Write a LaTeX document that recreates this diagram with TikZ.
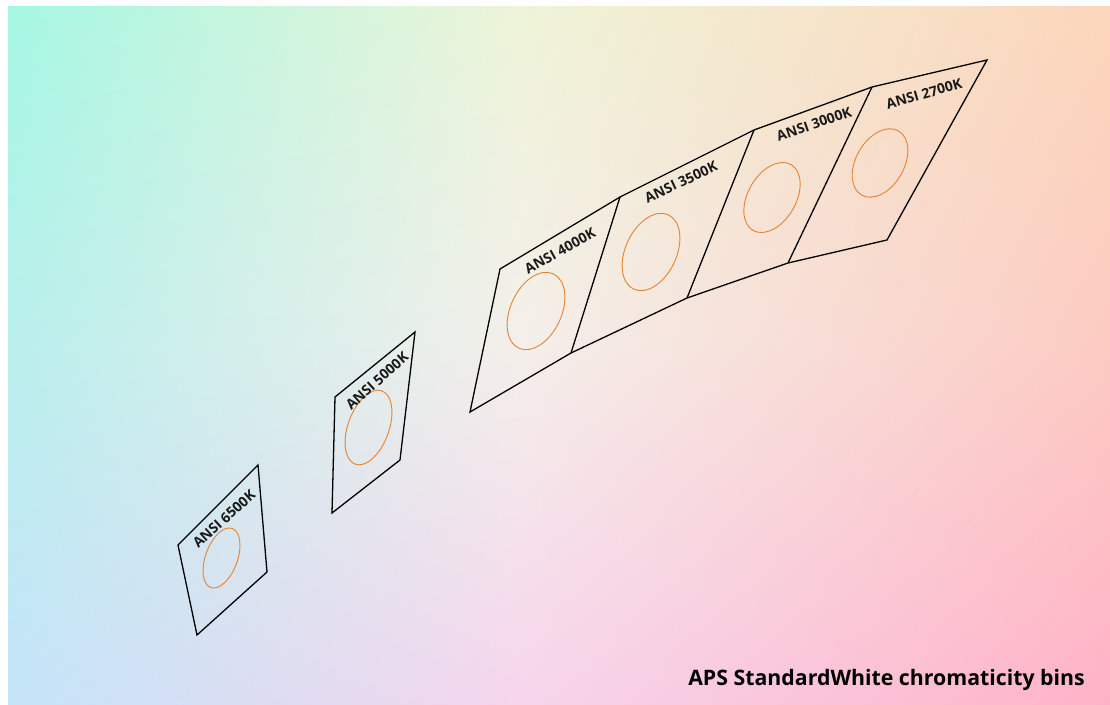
\documentclass[tikz,border=0pt]{standalone}
\usepackage{fontspec}
\setmainfont{Open Sans}
\usetikzlibrary{shadings}
\definecolor{gA}{HTML}{A5F7E3}
\definecolor{gB}{HTML}{EEF4D8}
\definecolor{gC}{HTML}{FCD6BB}
\definecolor{gD}{HTML}{B9EFEC}
\definecolor{gE}{HTML}{F4EFEA}
\definecolor{gF}{HTML}{FCCBC2}
\definecolor{gG}{HTML}{C4E4F9}
\definecolor{gH}{HTML}{F6D5EC}
\definecolor{gI}{HTML}{FFB2C7}
\definecolor{binorange}{HTML}{E8822E}
\begin{document}
\begin{tikzpicture}[x=1pt,y=-1pt,
  panel/.style={draw=black, line width=1.3pt, line join=miter},
  bin/.style={draw=binorange, line width=0.9pt},
  lab/.style={font=\fontsize{14}{16}\selectfont\bfseries, inner sep=0pt, text=black!90},
  ttl/.style={font=\fontsize{21.3}{24}\selectfont\bfseries, inner sep=0pt, text=black}]
\useasboundingbox (0,0) rectangle (1110,704);
\fill[white] (0,0) rectangle (1110,704);
% background: four bilinear patches
\shade[upper left=gA, upper right=gB, lower left=gD, lower right=gE] (8,6) rectangle (520.5,340.5);
\shade[upper left=gB, upper right=gC, lower left=gE, lower right=gF] (520,6) rectangle (1110,340.5);
\shade[upper left=gD, upper right=gE, lower left=gG, lower right=gH] (8,340) rectangle (520.5,704);
\shade[upper left=gE, upper right=gF, lower left=gH, lower right=gI] (520,340) rectangle (1110,704);

% single panels
\coordinate (a1) at (178,545); \coordinate (a2) at (258,465);
\coordinate (a3) at (267,572); \coordinate (a4) at (197,635);
\draw[panel] (a1) -- (a2) -- (a3) -- (a4) -- cycle;

\coordinate (b1) at (335,397); \coordinate (b2) at (415,332);
\coordinate (b3) at (400,460); \coordinate (b4) at (332,513);
\draw[panel] (b1) -- (b2) -- (b3) -- (b4) -- cycle;

% strip of four panels
\coordinate (t0) at (500,269); \coordinate (t1) at (620,197);
\coordinate (t2) at (754,130); \coordinate (t3) at (872,87);
\coordinate (t4) at (987,60);
\coordinate (u0) at (470,412); \coordinate (u1) at (571,353);
\coordinate (u2) at (687,298); \coordinate (u3) at (788,263);
\coordinate (u4) at (887,240);
\draw[panel] (t0) -- (t1) -- (t2) -- (t3) -- (t4) -- (u4) -- (u3) -- (u2) -- (u1) -- (u0) -- cycle;
\draw[panel] (t1) -- (u1);
\draw[panel] (t2) -- (u2);
\draw[panel] (t3) -- (u3);

% ellipses
\coordinate (e1) at (221.5,558);
\coordinate (e2) at (368.5,427.5);
\coordinate (e3) at (536,311);
\coordinate (e4) at (651,252);
\coordinate (e5) at (772,197.5);
\coordinate (e6) at (880,163);
\draw[bin, rotate around={70:(e1)}] (e1) ellipse [x radius=31.4, y radius=16];
\draw[bin, rotate around={70:(e2)}] (e2) ellipse [x radius=39, y radius=20.5];
\draw[bin, rotate around={65:(e3)}] (e3) ellipse [x radius=41, y radius=25.5];
\draw[bin, rotate around={65:(e4)}] (e4) ellipse [x radius=41, y radius=25.5];
\draw[bin, rotate around={60:(e5)}] (e5) ellipse [x radius=38, y radius=24];
\draw[bin, rotate around={60:(e6)}] (e6) ellipse [x radius=37, y radius=24];

% labels
\node[lab, rotate=42] (l1) at (224,519) {ANSI 6500K};
\node[lab, rotate=42] (l2) at (377,381) {ANSI 5000K};
\node[lab, rotate=29] (l3) at (560,251) {ANSI 4000K};
\node[lab, rotate=25] (l4) at (681,182) {ANSI 3500K};
\node[lab, rotate=19] (l5) at (814,124) {ANSI 3000K};
\node[lab, rotate=16] (l6) at (924,94) {ANSI 2700K};

\node[ttl, anchor=base east] (title) at (1085,685) {APS StandardWhite chromaticity bins};
\end{tikzpicture}
\end{document}
